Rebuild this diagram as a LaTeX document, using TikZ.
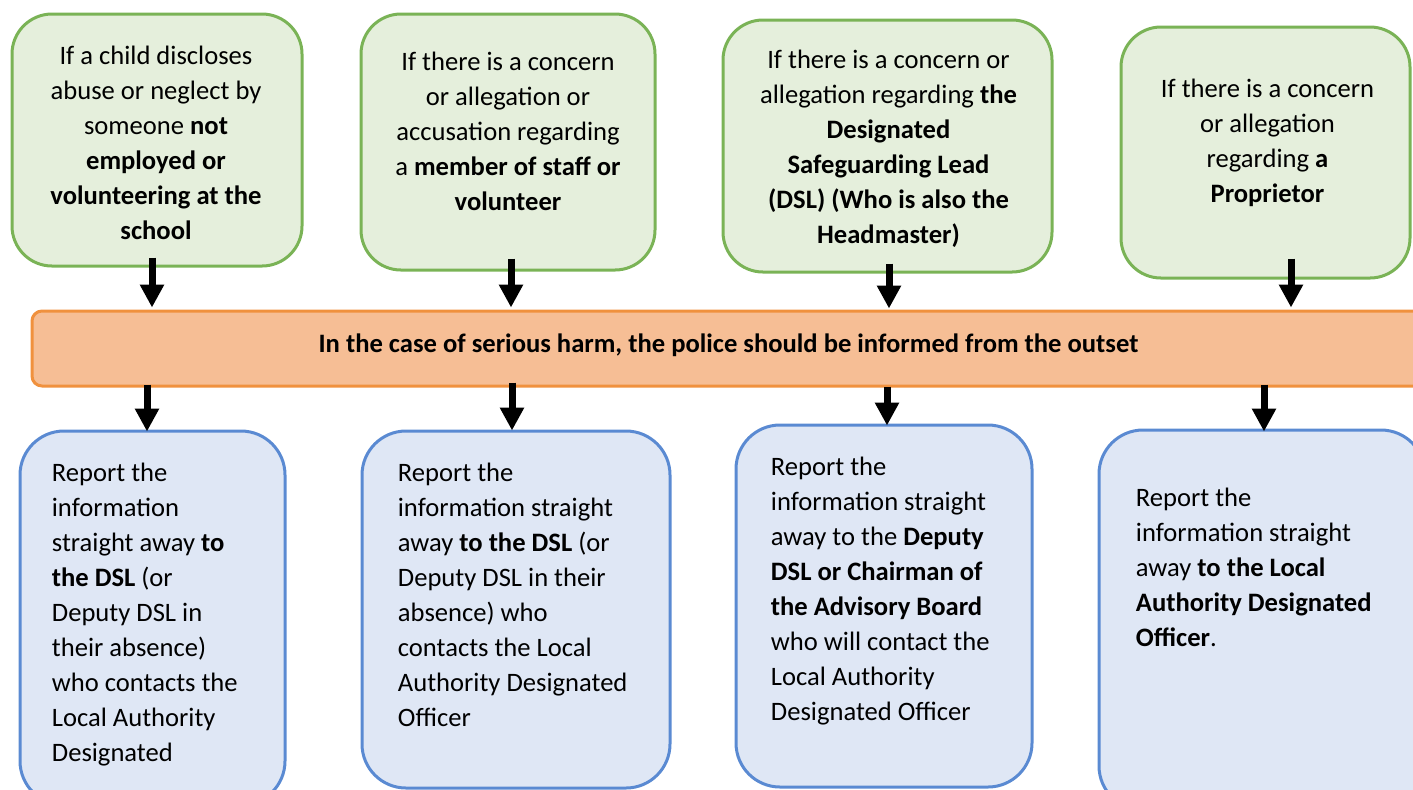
\documentclass[tikz,border=0pt]{standalone}
\usepackage{fontspec}
\setmainfont{Carlito}
\usetikzlibrary{arrows.meta,positioning,calc}
\definecolor{gfill}{HTML}{E5EFDC}
\definecolor{gline}{HTML}{7AB356}
\definecolor{ofill}{HTML}{F6BE95}
\definecolor{oline}{HTML}{F0913E}
\definecolor{bfill}{HTML}{DFE7F5}
\definecolor{bline}{HTML}{5A8AD2}

\begin{document}
\begin{tikzpicture}[x=0.5pt, y=-0.5pt, >={Triangle[width=11.5pt,length=11.5pt]},
	every node/.style={font=\fontsize{13.3}{17.5}\selectfont, inner sep=0pt},
	gbox/.style={draw=gline, fill=gfill, line width=1.5pt, rounded corners=20pt},
	bbox/.style={draw=bline, fill=bfill, line width=1.5pt, rounded corners=22pt},
	obar/.style={draw=oline, fill=ofill, line width=1.5pt, rounded corners=5pt},
	gtext/.style={align=center},
	btext/.style={align=left, anchor=north west},
	arr/.style={->, line width=3.5pt}]
	\useasboundingbox (0,0) rectangle (1413,789);
	\clip (0,0) rectangle (1413,789);
	% top row
	\node[gbox, minimum width=145pt, minimum height=126pt] (g1) at (157,140) {};
	\node[gbox, minimum width=147pt, minimum height=128pt] (g2) at (508,142) {};
	\node[gbox, minimum width=164.5pt, minimum height=126pt] (g3) at (887.5,146) {};
	\node[gbox, minimum width=144.5pt, minimum height=125.5pt] (g4) at (1265.5,152.5) {};
	\node[gtext] at ($(g1)+(-1,2.5)$) {If a child discloses\\abuse or neglect by\\someone \textbf{not}\\\textbf{employed or}\\\textbf{volunteering at the}\\\textbf{school}};
	\node[gtext] at ($(g2)+(0,-11)$) {If there is a concern\\or allegation or\\accusation regarding\\a \textbf{member of staff or}\\\textbf{volunteer}};
	\node[gtext] at ($(g3)+(1,3)$) {If there is a concern or\\allegation regarding \textbf{the}\\\textbf{Designated}\\\textbf{Safeguarding Lead}\\\textbf{(DSL) (Who is also the}\\\textbf{Headmaster)}};
	\node[gtext] at ($(g4)+(2,-10)$) {If there is a concern\\or allegation\\regarding \textbf{a}\\\textbf{Proprietor}};
	% police bar
	\node[obar, minimum width=696.5pt, minimum height=37.5pt] (bar) at (728.5,348.5) {};
	\node[font=\fontsize{13.3}{17.5}\selectfont\bfseries] at ($(bar)+(0,-3)$) {In the case of serious harm, the police should be informed from the outset};
	% bottom row
	\node[bbox, minimum width=132.5pt, minimum height=187pt] (b1) at (152.5,618) {};
	\node[bbox, minimum width=154pt, minimum height=178.5pt] (b2) at (516,609.5) {};
	\node[bbox, minimum width=148pt, minimum height=181pt] (b3) at (884,606) {};
	\node[bbox, minimum width=163pt, minimum height=190pt] (b4) at (1262,620) {};
	\node[btext] at ($(b1.north west)+(33,33)$) {Report the\\information\\straight away \textbf{to}\\\textbf{the DSL} (or\\Deputy DSL in\\their absence)\\who contacts the\\Local Authority\\Designated};
	\node[btext] at ($(b2.north west)+(37,33)$) {Report the\\information straight\\away \textbf{to the DSL} (or\\Deputy DSL in their\\absence) who\\contacts the Local\\Authority Designated\\Officer};
	\node[btext] at ($(b3.north west)+(36,33)$) {Report the\\information straight\\away to the \textbf{Deputy}\\\textbf{DSL or Chairman of}\\\textbf{the Advisory Board}\\who will contact the\\Local Authority\\Designated Officer};
	\node[btext] at ($(b4.north west)+(38,59)$) {Report the\\information straight\\away \textbf{to the Local}\\\textbf{Authority Designated}\\\textbf{Officer}.};
	% arrows
	\draw[arr] ($(g1.south)+(-5,-10)$) -- ($(g1.south |- bar.north)+(-5,-2)$);
	\draw[arr] ($(g2.south)+(3,-13)$) -- ($(g2.south |- bar.north)+(3,-2)$);
	\draw[arr] ($(g3.south)+(1.5,-10)$) -- ($(g3.south |- bar.north)+(1.5,-1)$);
	\draw[arr] ($(g4.south)+(25.5,-21)$) -- ($(g4.south |- bar.north)+(25.5,-2)$);
	\draw[arr] ($(b1.north |- bar.south)+(-5.5,-3)$) -- ($(b1.north)+(-5.5,2)$);
	\draw[arr] ($(b2.north |- bar.south)+(-4,-5)$) -- ($(b2.north)+(-4,1)$);
	\draw[arr] ($(b3.north |- bar.south)+(3,-1)$) -- ($(b3.north)+(3,2)$);
	\draw[arr] ($(b4.north |- bar.south)+(2,-3)$) -- ($(b4.north)+(2,3)$);
\end{tikzpicture}
\end{document}
